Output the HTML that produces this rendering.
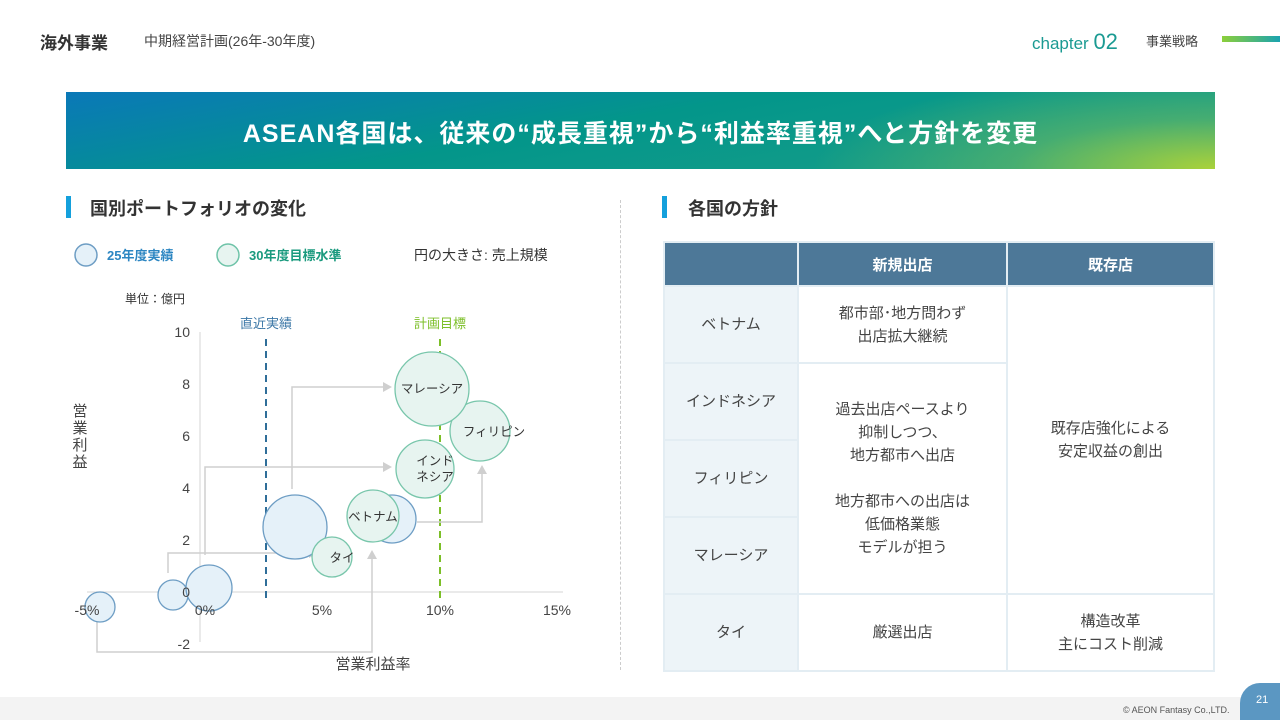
<!DOCTYPE html>
<html><head><meta charset="utf-8"><style>
*{margin:0;padding:0;box-sizing:border-box}
html,body{width:1280px;height:720px;overflow:hidden}
body{position:relative;background:#fff;font-family:"Liberation Sans","Noto Sans CJK JP",sans-serif;color:#333}
.a{position:absolute;white-space:nowrap}
table{position:absolute;left:663px;top:241px;width:552px;border-collapse:collapse;font-size:15px;color:#444}
td{border:2px solid #e3edf3;text-align:center;vertical-align:middle;line-height:23px}
th{background:#4d7898;color:#fff;font-size:15px;font-weight:bold;border:2px solid #e3edf3;height:44px}
td.c{background:#edf4f8}
</style></head><body>
<div class="a" style="left:40px;top:29px;font-size:17px;font-weight:bold;color:#333">海外事業</div>
<div class="a" style="left:144px;top:31px;font-size:14px;color:#444">中期経営計画(26年-30年度)</div>
<div class="a" style="left:1032px;top:29px;font-size:17px;color:#1a9a92">chapter <span style="font-size:22px">02</span></div>
<div class="a" style="left:1146px;top:31px;font-size:13px;color:#444">事業戦略</div>
<div class="a" style="left:1222px;top:36px;width:58px;height:6px;background:linear-gradient(90deg,#8ccf3a,#1aa3b0)"></div>
<div class="a" style="left:66px;top:92px;width:1149px;height:77px;background:radial-gradient(ellipse 35% 130% at 100% 100%,rgba(170,210,58,1),rgba(120,190,90,0.5) 50%,rgba(60,170,130,0) 100%),linear-gradient(170deg,#0a78b8 0%,#03968a 45%,#1c9f88 100%)"></div>
<div class="a" style="left:66px;top:114px;width:1149px;text-align:center;font-size:25px;font-weight:bold;color:#fff;letter-spacing:1px">ASEAN各国は、従来の“成長重視”から“利益率重視”へと方針を変更</div>
<div class="a" style="left:66px;top:196px;width:5px;height:22px;background:#14a0dc"></div>
<div class="a" style="left:90px;top:195px;font-size:18px;font-weight:bold;color:#333">国別ポートフォリオの変化</div>
<div class="a" style="left:662px;top:196px;width:5px;height:22px;background:#14a0dc"></div>
<div class="a" style="left:688px;top:195px;font-size:18px;font-weight:bold;color:#333">各国の方針</div>
<div class="a" style="left:620px;top:200px;width:0;height:470px;border-left:1px dashed #ccc"></div>
<svg class="a" style="left:0;top:0" width="640" height="700">
<circle cx="86" cy="255" r="11" fill="#e5f1f9" stroke="#6d9dc4" stroke-width="1.5"/>
<text x="107" y="260" font-size="13" font-weight="bold" fill="#2c86c2">25年度実績</text>
<circle cx="228" cy="255" r="11" fill="#e7f4f0" stroke="#6ec3a8" stroke-width="1.5"/>
<text x="249" y="260" font-size="13" font-weight="bold" fill="#1a9a7e">30年度目標水準</text>
<text x="414" y="260" font-size="14" fill="#333">円の大きさ: 売上規模</text>
<text x="125" y="303" font-size="12" fill="#333">単位：億円</text>
<text x="373" y="669" font-size="15" fill="#444" text-anchor="middle">営業利益率</text>
<g font-size="15" fill="#444" text-anchor="middle"><text x="80" y="416">営</text><text x="80" y="433">業</text><text x="80" y="450">利</text><text x="80" y="467">益</text></g>
<text x="266" y="328" font-size="13" fill="#3a76a6" text-anchor="middle">直近実績</text>
<text x="440" y="328" font-size="13" fill="#7cbf28" text-anchor="middle">計画目標</text>
<line x1="200" y1="332" x2="200" y2="642" stroke="#ddd" stroke-width="1.2"/>
<line x1="87" y1="592" x2="563" y2="592" stroke="#ddd" stroke-width="1.2"/>
<line x1="266" y1="339" x2="266" y2="598" stroke="#2f6e99" stroke-width="2" stroke-dasharray="7,5"/>
<line x1="440" y1="339" x2="440" y2="598" stroke="#7cbf28" stroke-width="2" stroke-dasharray="7,5"/>
<g fill="none" stroke="#cfcfcf" stroke-width="1.5">
<polyline points="292,489 292,387 384,387"/>
<polyline points="205,555 205,467 384,467"/>
<polyline points="168,573 168,553 310,553"/>
<polyline points="97,622 97,652 372,652 372,558"/>
<polyline points="417,522 482,522 482,473"/>
</g>
<g fill="#cfcfcf">
<polygon points="392,387 383,382 383,392"/><polygon points="392,467 383,462 383,472"/>
<polygon points="318,553 309,548 309,558"/><polygon points="372,550 367,559 377,559"/>
<polygon points="482,465 477,474 487,474"/></g>
<g fill="#e5f1f9" stroke="#6d9dc4" stroke-width="1.3">
<circle cx="100" cy="607" r="15"/><circle cx="173" cy="595" r="15"/><circle cx="209" cy="588" r="23"/>
<circle cx="295" cy="527" r="32"/><circle cx="392" cy="519" r="24"/></g>
<g fill="#e7f4f0" stroke="#78c6ab" stroke-width="1.3">
<circle cx="373" cy="516" r="26"/><circle cx="332" cy="557" r="20"/><circle cx="480" cy="431" r="30"/>
<circle cx="432" cy="389" r="37"/><circle cx="425" cy="469" r="29"/></g>
<g font-size="12.5" fill="#333" text-anchor="middle">
<text x="373" y="521">ベトナム</text><text x="342" y="562">タイ</text><text x="494" y="436">フィリピン</text>
<text x="432" y="393">マレーシア</text><text x="435" y="465">インド</text><text x="435" y="481">ネシア</text></g>
<g font-size="14" fill="#444" text-anchor="end">
<text x="190" y="337">10</text><text x="190" y="389">8</text><text x="190" y="441">6</text><text x="190" y="493">4</text><text x="190" y="545">2</text><text x="190" y="597">0</text><text x="190" y="649">-2</text></g>
<g font-size="14" fill="#444" text-anchor="middle">
<text x="87" y="615">-5%</text><text x="205" y="615">0%</text><text x="322" y="615">5%</text><text x="440" y="615">10%</text><text x="557" y="615">15%</text></g>
</svg>
<table>
<tr><th style="width:134px"></th><th style="width:209px">新規出店</th><th>既存店</th></tr>
<tr style="height:77px"><td class="c">ベトナム</td><td>都市部･地方問わず<br>出店拡大継続</td><td rowspan="4">既存店強化による<br>安定収益の創出</td></tr>
<tr style="height:77px"><td class="c">インドネシア</td><td rowspan="3">過去出店ペースより<br>抑制しつつ、<br>地方都市へ出店<br><br>地方都市への出店は<br>低価格業態<br>モデルが担う</td></tr>
<tr style="height:77px"><td class="c">フィリピン</td></tr>
<tr style="height:77px"><td class="c">マレーシア</td></tr>
<tr style="height:77px"><td class="c">タイ</td><td>厳選出店</td><td>構造改革<br>主にコスト削減</td></tr>
</table>
<div class="a" style="left:0;top:697px;width:1280px;height:23px;background:#f3f3f3"></div>
<div class="a" style="left:1123px;top:705px;font-size:9px;color:#555">© AEON Fantasy Co.,LTD.</div>
<div class="a" style="left:1240px;top:683px;width:40px;height:37px;background:#5b97c2;border-radius:20px 0 0 0"></div>
<div class="a" style="left:1256px;top:694px;font-size:11px;color:#fff">21</div>
</body></html>
